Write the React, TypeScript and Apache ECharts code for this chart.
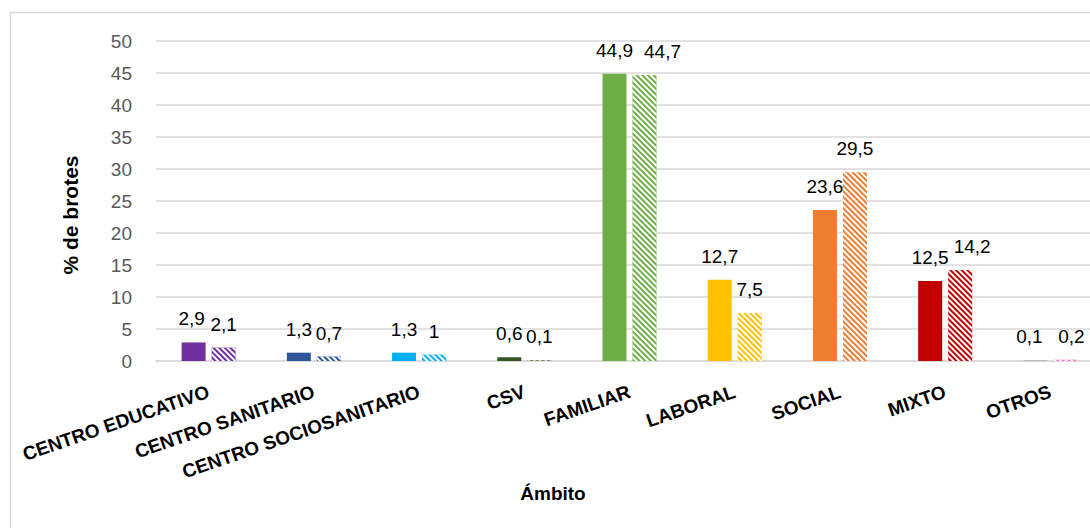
import React, { useEffect, useRef } from "react";
import * as echarts from "echarts";

const categories = [
  "CENTRO EDUCATIVO",
  "CENTRO SANITARIO",
  "CENTRO SOCIOSANITARIO",
  "CSV",
  "FAMILIAR",
  "LABORAL",
  "SOCIAL",
  "MIXTO",
  "OTROS",
];
const seriesA = [2.9, 1.3, 1.3, 0.6, 44.9, 12.7, 23.6, 12.5, 0.1];
const seriesB = [2.1, 0.7, 1, 0.1, 44.7, 7.5, 29.5, 14.2, 0.2];
const colorsA = ["#7030A0", "#2F5597", "#00B0F0", "#375623", "#70AD47", "#FFC000", "#ED7D31", "#C00000", "#A5A5A5"];
const colorsB = ["#7030A0", "#2F5597", "#00B0F0", "#375623", "#70AD47", "#FFC000", "#ED7D31", "#C00000", "#FF66CC"];
const yTicks = { min: 0, max: 50, interval: 5 };

// horizontal label nudges (px) for the hatched series, to avoid overlapping labels
const labelShiftB: Record<number, number> = { 4: 18, 7: 12, 8: 6 };
const labelShiftA: Record<number, number> = { 0: -2, 8: -6 };

const FONT = "'Liberation Sans', 'Noto Sans', sans-serif";
const fmt = (v: number) => String(v).replace(".", ",");

export default function App() {
  const ref = useRef<HTMLDivElement>(null);
  useEffect(() => {
    const chart = echarts.init(ref.current!, null, { renderer: "svg" });
    const hatch = {
      symbol: "rect",
      symbolSize: 1,
      color: "#ffffff",
      dashArrayX: [1, 0],
      dashArrayY: [2, 2],
      rotation: Math.PI / 4,
    };
    const labelStyle = {
      show: true,
      position: "top",
      distance: 14,
      color: "#000",
      fontSize: 19,
      fontFamily: FONT,
      formatter: (p: any) => fmt(p.value),
    };
    chart.setOption({
      animation: false,
      aria: { enabled: true, decal: { show: true } },
      grid: { left: 156, top: 41, width: 947, height: 320, containLabel: false },
      xAxis: {
        type: "category",
        data: categories,
        axisLine: { lineStyle: { color: "#d9d9d9", width: 1.5 } },
        axisTick: { show: false },
        axisLabel: {
          rotate: 19,
          interval: 0,
          color: "#000",
          fontWeight: "bold",
          fontSize: 19,
          fontFamily: FONT,
          margin: 30,
        },
      },
      yAxis: {
        type: "value",
        min: yTicks.min,
        max: yTicks.max,
        interval: yTicks.interval,
        axisLine: { show: false },
        axisTick: { show: false },
        splitLine: { lineStyle: { color: "#d9d9d9", width: 1.5 } },
        axisLabel: { color: "#595959", fontSize: 19, fontFamily: FONT, margin: 24 },
      },
      series: [
        {
          name: "A",
          type: "bar",
          barWidth: 24,
          barGap: "25%",
          data: seriesA.map((v, i) => ({
            value: v,
            itemStyle: { color: colorsA[i], decal: { symbol: "none" } },
            label: { offset: [labelShiftA[i] || 0, 0] },
          })),
          label: labelStyle,
        },
        {
          name: "B",
          type: "bar",
          barWidth: 24,
          data: seriesB.map((v, i) => ({
            value: v,
            itemStyle: { color: colorsB[i], decal: hatch },
            label: { offset: [labelShiftB[i] || 0, 0] },
          })),
          label: labelStyle,
        },
      ],
      graphic: [
        {
          type: "rect",
          shape: { x: 10.5, y: 12.5, width: 1200, height: 600 },
          style: { fill: "none", stroke: "#d9d9d9", lineWidth: 1.5 },
          silent: true,
        },
        {
          type: "text",
          x: 70,
          y: 215,
          rotation: Math.PI / 2,
          style: {
            text: "% de brotes",
            fontSize: 21,
            fontWeight: "bold",
            fontFamily: FONT,
            fill: "#000",
            align: "center",
            verticalAlign: "middle",
          },
        },
        {
          type: "text",
          x: 553,
          y: 493,
          style: {
            text: "Ámbito",
            fontSize: 19,
            fontWeight: "bold",
            fontFamily: FONT,
            fill: "#000",
            align: "center",
            verticalAlign: "middle",
          },
        },
      ],
    });
    return () => chart.dispose();
  }, []);
  return (
    <div style={{ position: "absolute", left: 0, top: 0, width: 1090, height: 528, overflow: "hidden" }}>
      <div ref={ref} style={{ width: 1120, height: 528 }} />
    </div>
  );
}
